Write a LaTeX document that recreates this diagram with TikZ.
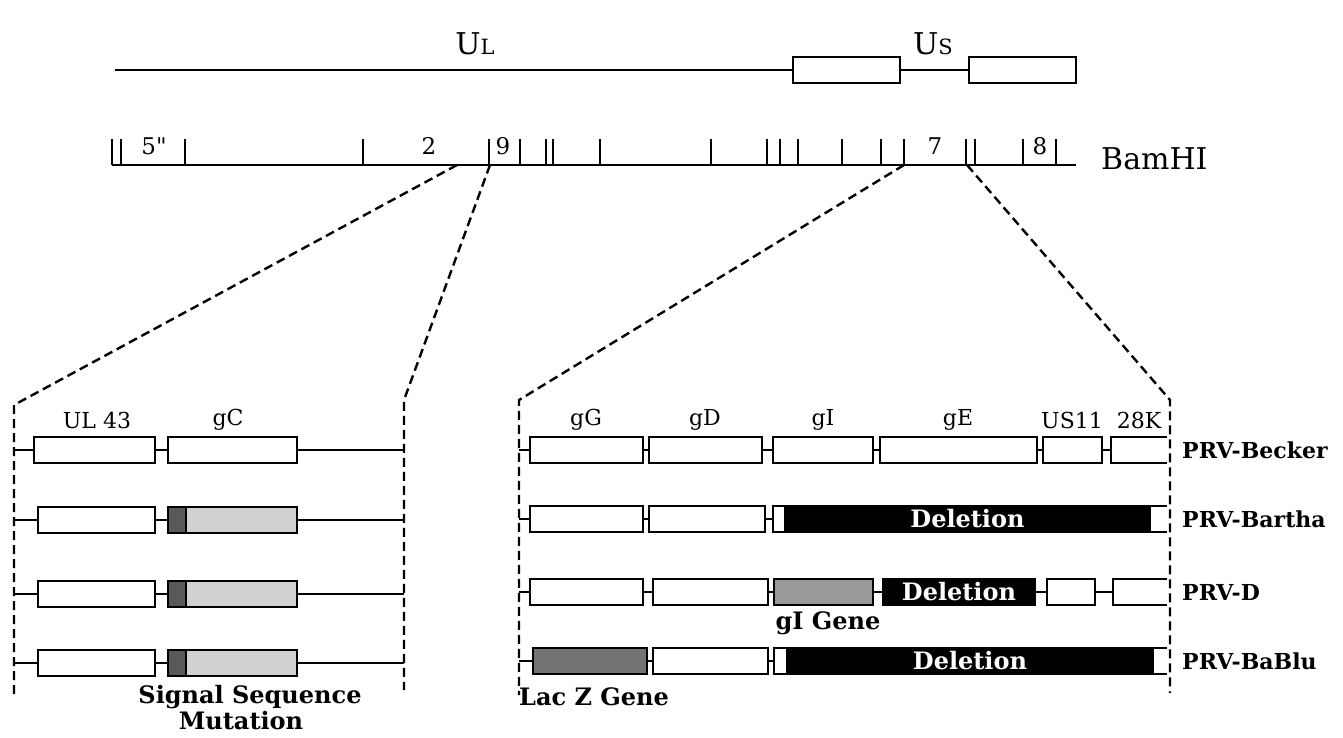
\documentclass[tikz,border=0pt]{standalone}
\usepackage{fontspec}
\newfontfamily\bsf[BoldFont={DejaVu Serif Bold}]{DejaVu Serif}
\newfontfamily\rsf{DejaVu Serif}
\definecolor{gcl}{gray}{0.82}
\definecolor{sig}{gray}{0.35}
\definecolor{gishade}{gray}{0.6}
\definecolor{lacz}{gray}{0.45}
\tikzset{
  gene/.style={draw, line width=2.5pt, fill=white, inner sep=0pt, minimum height=26pt},
  delbox/.style={gene, fill=black, text=white, font=\bsf\bfseries\fontsize{24}{28}\selectfont},
  conn/.style={line width=2.5pt},
  zoomline/.style={line width=2.4pt, dash pattern=on 9pt off 5pt},
  lab/.style={font=\rsf\fontsize{22}{26}\selectfont, inner sep=0pt},
  tlab/.style={font=\rsf\fontsize{23}{26}\selectfont, inner sep=0pt},
  blab/.style={font=\bsf\bfseries\fontsize{24}{28}\selectfont, inner sep=0pt},
  plab/.style={font=\bsf\bfseries\fontsize{22}{26}\selectfont, inner sep=0pt, anchor=west},
  big/.style={font=\rsf\fontsize{30}{34}\selectfont, inner sep=0pt}
}
\newcommand\gb[6][]{\node[gene,minimum width={(#5-#4)*1pt},#1] (#2) at ({(#4+#5)/2},#6) {#3};}
\begin{document}
\begin{tikzpicture}[x=1pt,y=-1pt]
\useasboundingbox (0,0) rectangle (1343,737);
% ---------- top genome line
\node[big] (UL) at (475,44) {U{\fontsize{21}{24}\selectfont L}};
\node[big] (US) at (933,44) {U{\fontsize{21}{24}\selectfont S}};
\coordinate (t0) at (115,70);
\gb{us1}{}{793}{900}{70}
\gb{us2}{}{969}{1076}{70}
\draw[conn] (t0) -- (us1.west);
\draw[conn] (us1.east) -- (us2.west);
% ---------- BamHI map
\coordinate (b0) at (112,165);
\coordinate (b1) at (1076,165);
\draw[conn] (b0) -- (b1);
\foreach \x in {112,121,185,363,489,520,546,553,600,711,767,780,798,842,881,904,966,975,1023,1056}
  \draw[conn] (\x,165) -- (\x,139);
\node[tlab] (f5) at (154,146) {5"};
\node[tlab] (f2) at (429,146) {2};
\node[tlab] (f9) at (503,146) {9};
\node[tlab] (f7) at (935,146) {7};
\node[tlab] (f8) at (1040,146) {8};
\node[big, anchor=west] (bam) at (1101,159) {BamHI};
% ---------- zoom lines
\coordinate (z1) at (457,165);
\coordinate (z2) at (490,165);
\coordinate (z3) at (904,165);
\coordinate (z4) at (967,165);
\draw[zoomline] (z1) -- (14,405) -- (14,697);
\draw[zoomline] (z2) -- (404,400) -- (404,690);
\draw[zoomline] (z3) -- (519,400) -- (519,695);
\draw[zoomline] (z4) -- (1170,400) -- (1170,693);
% ---------- left panel
\node[lab] (lul) at (97,420) {UL 43};
\node[lab] (lgc) at (228,420) {gC};
\gb{ul1}{}{34}{155}{450}
\gb{gc1}{}{168}{297}{450}
\coordinate (ls1) at (14,450); \coordinate (le1) at (404,450);
\draw[conn] (ls1) -- (ul1.west);
\draw[conn] (ul1.east) -- (gc1.west);
\draw[conn] (gc1.east) -- (le1);
\foreach \r/\y in {2/520,3/594,4/663}{
  \gb{ul\r}{}{38}{155}{\y}
  \gb[fill=sig]{s\r}{}{168}{186}{\y}
  \gb[fill=gcl]{gc\r}{}{186}{297}{\y}
  \coordinate (ls\r) at (14,\y); \coordinate (le\r) at (404,\y);
  \draw[conn] (ls\r) -- (ul\r.west);
  \draw[conn] (ul\r.east) -- (s\r.west);
  \draw[conn] (gc\r.east) -- (le\r);
}
\node[blab] (sigl) at (250,697) {Signal Sequence};
\node[blab] (mutl) at (241,721) {Mutation};
% ---------- right panel labels
\node[lab] (lgg) at (586,420) {gG};
\node[lab] (lgd) at (705,420) {gD};
\node[lab] (lgi) at (823,420) {gI};
\node[lab] (lge) at (958,420) {gE};
\node[lab] (lus) at (1072,420) {US11};
\node[lab] (lk) at (1139,420) {28K};
% row 1 PRV-Becker
\coordinate (rs1) at (519,450);
\gb{gg1}{}{530}{643}{450}
\gb{gd1}{}{649}{762}{450}
\gb{gi1}{}{773}{873}{450}
\gb{ge1}{}{880}{1037}{450}
\gb{us111}{}{1043}{1102}{450}
\coordinate (k28) at (1111,450);
\draw[conn] (1167,437) -- (1111,437) -- (1111,463) -- (1167,463);
\draw[conn] (rs1) -- (gg1.west);
\draw[conn] (gg1.east) -- (gd1.west);
\draw[conn] (gd1.east) -- (gi1.west);
\draw[conn] (gi1.east) -- (ge1.west);
\draw[conn] (ge1.east) -- (us111.west);
\draw[conn] (us111.east) -- (k28);
% row 2 PRV-Bartha
\coordinate (rs2) at (519,519);
\gb{gg2}{}{530}{643}{519}
\gb{gd2}{}{649}{765}{519}
\coordinate (ob2) at (773,519);
\draw[conn] (1167,506) -- (773,506) -- (773,532) -- (1167,532);
\gb[delbox]{del2}{Deletion}{785}{1150}{519}
\draw[conn] (rs2) -- (gg2.west);
\draw[conn] (gg2.east) -- (gd2.west);
\draw[conn] (gd2.east) -- (ob2);
% row 3 PRV-D
\coordinate (rs3) at (519,592);
\gb{gg3}{}{530}{643}{592}
\gb{gd3}{}{653}{768}{592}
\gb[fill=gishade]{gi3}{}{774}{873}{592}
\gb[delbox]{del3}{Deletion}{883}{1035}{592}
\gb{us113}{}{1047}{1095}{592}
\coordinate (k283) at (1113,592);
\draw[conn] (1167,579) -- (1113,579) -- (1113,605) -- (1167,605);
\draw[conn] (rs3) -- (gg3.west);
\draw[conn] (gg3.east) -- (gd3.west);
\draw[conn] (gd3.east) -- (gi3.west);
\draw[conn] (gi3.east) -- (del3.west);
\draw[conn] (del3.east) -- (us113.west);
\draw[conn] (us113.east) -- (k283);
\node[blab] (gigene) at (828,623) {gI Gene};
% row 4 PRV-BaBlu
\coordinate (rs4) at (519,661);
\gb[fill=lacz]{lz4}{}{533}{647}{661}
\gb{gd4}{}{653}{768}{661}
\coordinate (ob4) at (774,661);
\draw[conn] (1167,648) -- (774,648) -- (774,674) -- (1167,674);
\gb[delbox]{del4}{Deletion}{787}{1153}{661}
\draw[conn] (rs4) -- (lz4.west);
\draw[conn] (lz4.east) -- (gd4.west);
\draw[conn] (gd4.east) -- (ob4);
\node[blab] (lacl) at (594,697) {Lac Z Gene};
% strain names
\node[plab] (p1) at (1182,450) {PRV-Becker};
\node[plab] (p2) at (1182,519) {PRV-Bartha};
\node[plab] (p3) at (1182,592) {PRV-D};
\node[plab] (p4) at (1182,661) {PRV-BaBlu};
\end{tikzpicture}
\end{document}
